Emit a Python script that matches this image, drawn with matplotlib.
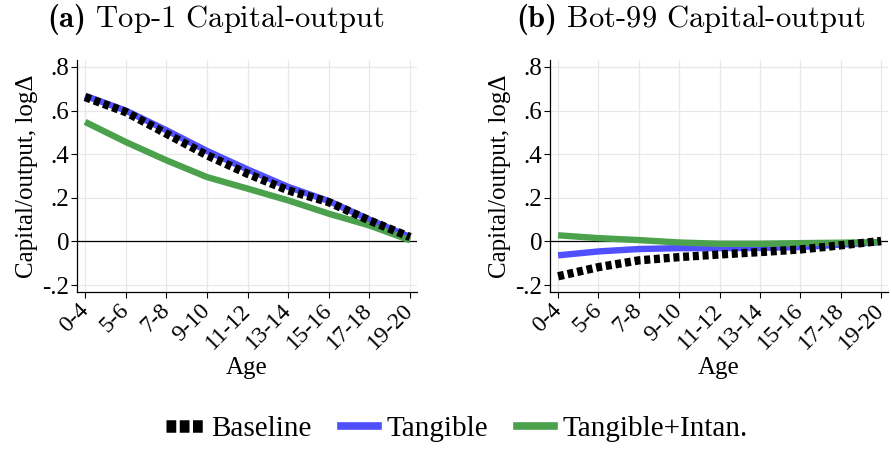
import matplotlib
matplotlib.use("Agg")
import matplotlib.pyplot as plt
from matplotlib.lines import Line2D

# Age groups on the horizontal axis
ages = ["0-4", "5-6", "7-8", "9-10", "11-12", "13-14", "15-16", "17-18", "19-20"]

# Panel (a): Top-1 capital-output, log difference
top_baseline = [0.662, 0.593, 0.494, 0.395, 0.31, 0.234, 0.18, 0.096, 0.02]
top_tangible = [0.668, 0.600, 0.510, 0.415, 0.33, 0.250, 0.185, 0.100, 0.02]
top_intan = [0.548, 0.456, 0.372, 0.295, 0.242, 0.188, 0.127, 0.073, 0.005]

# Panel (b): Bottom-99 capital-output, log difference
bot_baseline = [-0.160, -0.118, -0.087, -0.072, -0.060, -0.049, -0.037, -0.018, 0.002]
bot_tangible = [-0.064, -0.046, -0.035, -0.031, -0.031, -0.030, -0.026, -0.015, -0.003]
bot_intan = [0.028, 0.015, 0.006, -0.005, -0.011, -0.011, -0.008, -0.006, -0.003]

yticks = [0.8, 0.6, 0.4, 0.2, 0.0, -0.2]
ytick_labels = [".8", ".6", ".4", ".2", "0", "-.2"]

series_names = ["Baseline", "Tangible", "Tangible+Intan."]
BLACK = "#000000"
BLUE = "#5050ff"
GREEN = "#4ca24c"

serif = ["Liberation Serif", "DejaVu Serif"]
plt.rcParams["mathtext.fontset"] = "custom"
plt.rcParams["mathtext.bf"] = "cmb10"
plt.rcParams["mathtext.rm"] = "cmr10"

fig = plt.figure(figsize=(8.91, 4.49), dpi=100)
ax_a = fig.add_axes([0.0864, 0.3497, 0.3816, 0.5167])
ax_b = fig.add_axes([0.6173, 0.3497, 0.3793, 0.5167])

panels = [
    (ax_a, r"$\mathbf{(a)}$ Top-1 Capital-output", 0.2425, top_baseline, top_tangible, top_intan),
    (ax_b, r"$\mathbf{(b)}$ Bot-99 Capital-output", 0.7755, bot_baseline, bot_tangible, bot_intan),
]

x = list(range(len(ages)))
for ax, title, tx, base, tang, intan in panels:
    ax.set_axisbelow(True)
    ax.grid(True, color="#e8e8e8", lw=0.9)
    ax.axhline(0, color="black", lw=0.9, zorder=1)
    ax.plot(x, tang, color=BLUE, lw=4.6, solid_capstyle="butt", zorder=2)
    ax.plot(x, intan, color=GREEN, lw=4.6, solid_capstyle="butt", zorder=3)
    ax.plot(x, base, color=BLACK, lw=6.0, dashes=(0.72, 0.45),
            dash_capstyle="butt", zorder=4)
    ax.set_xlim(-0.2, 8.17)
    ax.set_ylim(-0.232, 0.832)
    ax.set_xticks(x)
    ax.set_xticklabels(ages, rotation=45, ha="right", va="center",
                       rotation_mode="anchor", fontfamily=serif, fontsize=17)
    ax.set_yticks(yticks)
    ax.set_yticklabels(ytick_labels, fontfamily=serif, fontsize=18)
    ax.tick_params(axis="both", direction="out", length=4, width=0.8, pad=1.5)
    ax.tick_params(axis="x", pad=7)
    for side in ("top", "right"):
        ax.spines[side].set_visible(False)
    for side in ("left", "bottom"):
        ax.spines[side].set_linewidth(0.9)
    ax.set_ylabel("Capital/output, logΔ", fontfamily=serif, fontsize=18,
                  labelpad=3)
    ax.set_xlabel("Age", fontfamily=serif, fontsize=18, labelpad=2)
    fig.text(tx, 0.94, title, fontfamily="cmr10", fontsize=22,
             ha="center", va="baseline")

handles = [
    Line2D([], [], color=BLACK, lw=9, dashes=(0.78, 0.28), dash_capstyle="butt"),
    Line2D([], [], color=BLUE, lw=5.5),
    Line2D([], [], color=GREEN, lw=5.5),
]
fig.legend(handles, series_names, loc="center", bbox_to_anchor=(0.513, 0.045),
           ncol=3, frameon=False, handlelength=1.25, handletextpad=0.3,
           columnspacing=1.0, prop={"family": serif, "size": 21})

fig.savefig("out.png", dpi=100)
